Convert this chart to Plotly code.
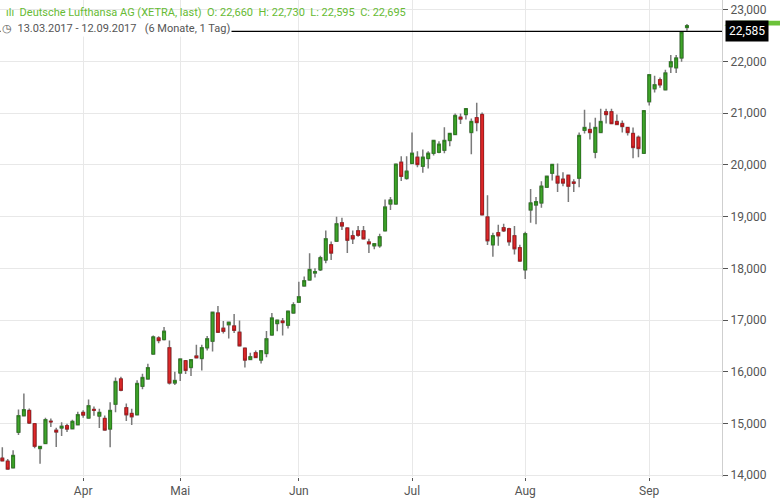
import pandas as pd
import plotly.graph_objects as go

holidays = ["2017-04-14", "2017-04-17", "2017-05-01", "2017-06-05"]
dates = [d.strftime("%Y-%m-%d") for d in pd.bdate_range("2017-03-13", "2017-09-12") if d.strftime("%Y-%m-%d") not in holidays]

opens = [14327,14269,14140,14827,15148,15250,14994,14513,14610,15040,14865,14910,14955,14898,14975,15212,15102,15270,15140,15096,
 14890,15371,15860,15302,15192,15167,15717,15860,16340,16654,16621,16462,15782,15974,16212,16083,16302,16256,16462,16590,
 17135,16840,16910,16885,16763,16455,16237,16365,16224,16352,16710,16930,16980,16900,17135,17345,17660,17775,17910,17970,
 18160,18455,18525,18880,18780,18630,18725,18725,18510,18435,18435,18725,19245,19245,20053,19740,20030,20150,19975,20125,
 20225,20245,20285,20475,20590,20925,20975,20630,20915,20975,18995,18455,18690,18785,18765,18630,18400,17970,19130,19225,
 19265,19570,19840,19780,19725,19800,19668,19745,20670,20685,20245,20630,21030,21030,20840,20800,20725,20610,20535,20225,
 21225,21475,21650,21455,21900,21880,22070,22660]
highs = [14538,14308,14481,15269,15577,15288,15000,14558,15110,15096,14917,15019,14994,15071,15225,15256,15461,15327,15283,15154,
 15410,15885,15900,15385,15283,15833,15962,16154,16698,16686,16865,16602,16000,16262,16224,16240,16520,16520,16692,17160,
 17270,16980,16960,17115,16990,16460,16365,16410,16420,16788,17135,17000,17040,17170,17345,17740,17840,18290,18000,18245,
 18730,18520,19000,18980,18790,18730,18820,18820,18570,18480,18670,19330,19380,20030,20170,20170,20630,20265,20300,20265,
 20480,20460,20730,20615,20995,20995,21095,20900,21205,21015,19415,18690,18845,18860,18785,18820,18455,18710,19535,19380,
 19685,19785,20015,20030,19860,19810,19725,20630,21070,20820,20915,21090,21090,21090,20975,20860,20725,20725,20570,21055,
 21750,21725,21690,21840,22130,22130,22575,22730]
lows = [14270,14102,14140,14775,15140,14987,14519,14217,14610,14929,14544,14756,14833,14898,14975,15110,15102,15148,14910,14860,
 14538,15217,15620,15045,14968,15167,15660,15860,16340,16550,16602,15750,15744,15821,15955,15917,16260,16025,16410,16390,
 16763,16737,16640,16750,16490,16083,16220,16260,16160,16280,16710,16780,16700,16835,17120,17345,17660,17775,17820,17950,
 18100,18160,18515,18740,18295,18470,18610,18560,18295,18370,18400,18725,19130,19245,19690,19715,20030,19955,19850,19930,
 20185,20225,20225,20360,20590,20795,20880,20205,20650,19030,18450,18225,18435,18705,18435,18265,18140,17795,18880,18855,
 19170,19565,19700,19475,19590,19285,19475,19570,20610,20495,20130,20630,20800,20800,20780,20630,20570,20130,20150,20220,
 21150,21400,21495,21450,21780,21780,21995,22595]
closes = [14275,14115,14379,15148,15263,15006,14558,14552,15071,15030,14833,14942,14890,15038,15167,15160,15340,15255,15212,14871,
 15250,15808,15641,15167,15129,15770,15885,16077,16673,16602,16782,15782,15827,16243,16026,16231,16269,16462,16635,17148,
 16763,16782,16955,16800,16500,16224,16288,16275,16404,16635,17038,16996,16950,17170,17295,17448,17760,17975,17935,18205,
 18570,18295,18860,18820,18545,18570,18640,18570,18475,18475,18610,19185,19320,20015,19780,19880,20225,20010,20150,20225,
 20475,20400,20475,20610,20955,20890,21090,20840,20820,19035,18535,18630,18630,18725,18515,18380,18140,18670,19265,19290,
 19590,19780,20010,19650,19650,19590,19648,20570,20725,20630,20725,20840,20975,20800,20785,20745,20630,20340,20320,21050,
 21745,21550,21550,21780,21995,22070,22570,22695]

ytick_vals = [14000,15000,16000,17000,18000,19000,20000,21000,22000,23000]
ytick_text = ["14,000","15,000","16,000","17,000","18,000","19,000","20,000","21,000","22,000","23,000"]
month_ticks = ["2017-04-03","2017-05-02","2017-06-01","2017-07-03","2017-08-01","2017-09-01"]
month_labels = ["Apr","Mai","Jun","Jul","Aug","Sep"]
last_price = 22585
last_label = "22,585"

body_hi = [max(o, c) for o, c in zip(opens, closes)]
body_lo = [min(o, c) for o, c in zip(opens, closes)]

fig = go.Figure()
fig.add_trace(go.Candlestick(x=dates, open=opens, high=highs, low=lows, close=closes,
    increasing=dict(line=dict(color="#7a7a7a", width=1.5), fillcolor="rgba(0,0,0,0)"),
    decreasing=dict(line=dict(color="#7a7a7a", width=1.5), fillcolor="rgba(0,0,0,0)"),
    whiskerwidth=0, hoverinfo="skip", showlegend=False))
fig.add_trace(go.Candlestick(x=dates, open=opens, high=body_hi, low=body_lo, close=closes,
    increasing=dict(line=dict(color="#2a7d1c", width=1), fillcolor="#3fa52a"),
    decreasing=dict(line=dict(color="#a8171b", width=1), fillcolor="#e02a2a"),
    whiskerwidth=0, showlegend=False))

fig.add_hline(y=last_price, line=dict(color="black", width=1.2))

fig.update_layout(
    width=780, height=498, margin=dict(l=0, r=58, t=0, b=18),
    paper_bgcolor="white", plot_bgcolor="white",
    font=dict(family="Roboto, Arial, sans-serif", size=12, color="#555"),
    xaxis=dict(type="category", rangeslider=dict(visible=False), range=[-0.43, 133.5],
               tickvals=month_ticks, ticktext=month_labels,
               showgrid=True, gridcolor="#e8e8e8", ticks="outside", ticklen=3, tickcolor="#555",
               tickfont=dict(size=12, color="#555"), showline=False, zeroline=False),
    yaxis=dict(side="right", range=[13962, 23192], tickvals=ytick_vals, ticktext=ytick_text,
               showgrid=True, gridcolor="#e8e8e8", ticks="outside", ticklen=5, tickcolor="#555",
               tickfont=dict(size=12, color="#555"), showline=True, linecolor="#cfcfcf", zeroline=False),
    shapes=[dict(type="rect", xref="paper", yref="paper", x0=1, x1=1.09, y0=-0.05, y1=1,
                 fillcolor="#f2f2f2", line=dict(width=0), layer="below"),
            dict(type="path", xref="paper", yref="y", layer="above",
                 path="M 1.003 22700 L 1.015 22790 L 1.09 22790 L 1.09 22700 Z",
                 fillcolor="#6cc23a", line=dict(width=0))],
    annotations=[
        dict(xref="paper", yref="y", x=1.004, y=last_price, xanchor="left", yanchor="middle",
             text=last_label, showarrow=False, bgcolor="black", font=dict(color="white", size=12),
             borderpad=3),
        dict(xref="paper", yref="paper", x=0.005, y=0.991, xanchor="left", yanchor="top", showarrow=False,
             text="ılı  Deutsche Lufthansa AG (XETRA, last)  O: 22,660  H: 22,730  L: 22,595  C: 22,695",
             font=dict(color="#66bb33", size=11)),
        dict(xref="paper", yref="paper", x=0.0, y=0.958, xanchor="left", yanchor="top", showarrow=False,
             text="◷  13.03.2017 - 12.09.2017   (6 Monate, 1 Tag)", bgcolor="white",
             font=dict(color="#555", size=11)),
    ],
)
fig.write_html("out.html", config={"displayModeBar": False},
               post_script="document.body.style.margin='0';document.body.style.overflow='hidden';")
